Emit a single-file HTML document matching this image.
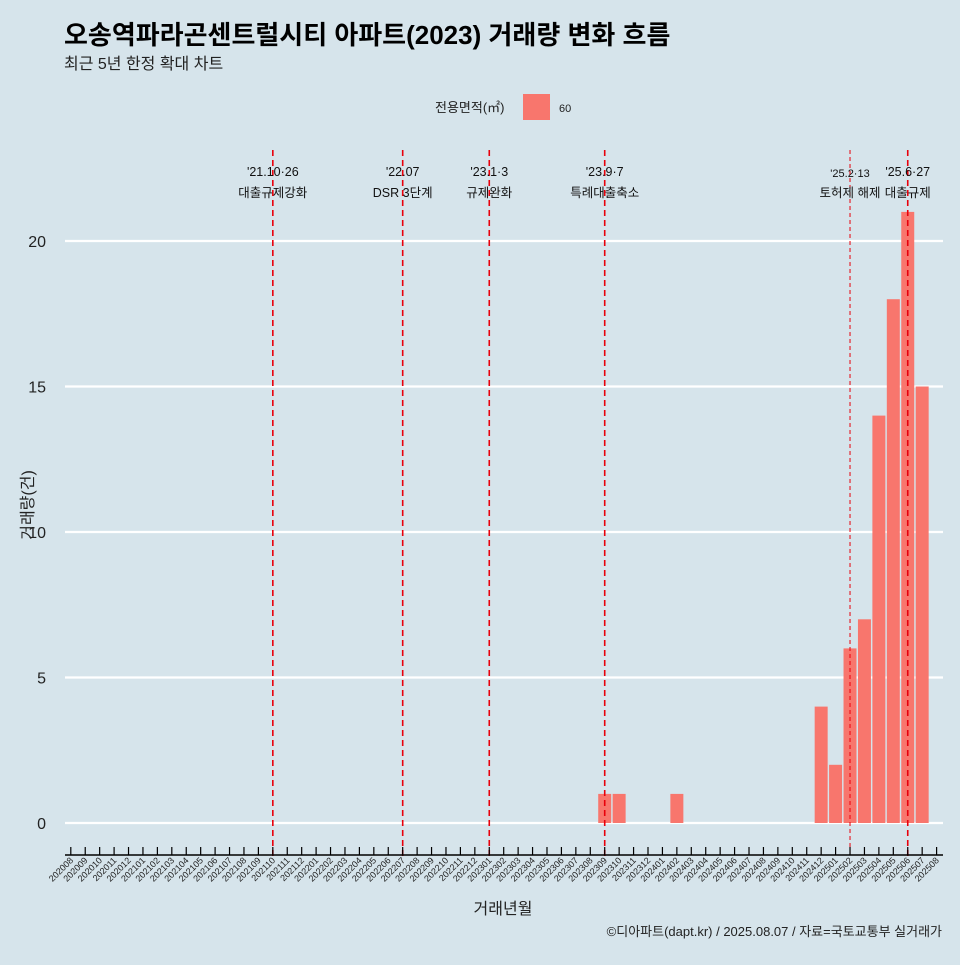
<!DOCTYPE html>
<html><head><meta charset="utf-8"><style>
body{margin:0;background:#d6e4eb;}
svg text{font-family:"Liberation Sans","Noto Sans CJK KR",sans-serif;}
</style></head><body>
<svg id="c" width="960" height="960" xmlns="http://www.w3.org/2000/svg">
<rect width="960" height="960" fill="#d6e4eb"/>
<text x="64" y="44" font-size="26" font-weight="bold" fill="#000">오송역파라곤센트럴시티 아파트(2023) 거래량 변화 흐름</text>
<text x="64" y="69" font-size="16" fill="#222">최근 5년 한정 확대 차트</text>
<g>
<text x="435" y="112" font-size="13" fill="#222">전용면적(㎡)</text>
<rect x="523" y="94" width="27" height="26" fill="#f8766d"/>
<text x="559" y="112" font-size="11" fill="#222">60</text>
</g>
<g id="grid"></g><g id="bars"></g><g id="events"></g><g id="xaxis"></g><g id="yaxis"></g>
<text transform="translate(33,505) rotate(-90)" text-anchor="middle" font-size="16" fill="#222">거래량(건)</text>
<text x="503" y="914" text-anchor="middle" font-size="16" fill="#222">거래년월</text>
<text x="942" y="936" text-anchor="end" font-size="13" fill="#222">©디아파트(dapt.kr) / 2025.08.07 / 자료=국토교통부 실거래가</text>
</svg>
<script>
const months=[];for(let y=2020;y<=2025;y++)for(let m=1;m<=12;m++){const k=y*100+m;if(k>=202008&&k<=202508)months.push(String(k));}
const barMonths=["202309","202310","202402","202412","202501","202502","202503","202504","202505","202506","202507"];
const barValues=[1,1,1,4,2,6,7,14,18,21,15];
const yTicks=[0,5,10,15,20];
const eventMonths=["202110","202207","202301","202309","202502","202506"];
const eventLine1=["'21.10·26","'22.07","'23.1·3","'23.9·7","'25.2·13","'25.6·27"];
const eventLine2=["대출규제강화","DSR 3단계","규제완화","특례대출축소","토허제 해제","대출규제"];
const ns="http://www.w3.org/2000/svg";
const x0=70.8,step=14.43,y0=823,yk=29.1;
const X=i=>x0+i*step, Y=v=>y0-v*yk;
function mk(p,t,a){const e=document.createElementNS(ns,t);for(const k in a)e.setAttribute(k,a[k]);document.getElementById(p).appendChild(e);return e;}
yTicks.forEach(v=>{
 const l=mk('grid','line',{x1:65,x2:943,y1:Y(v),y2:Y(v),stroke:'#fff','stroke-width':2.2});
 
 
 const t=mk('yaxis','text',{x:46,y:Y(v)+6,'text-anchor':'end','font-size':16,fill:'#222'});t.textContent=v;
 
 
});
barMonths.forEach((m,j)=>{
 const i=months.indexOf(m),w=step*0.9;
 const r=mk('bars','rect',{x:X(i)-w/2,y:Y(barValues[j]),width:w,height:barValues[j]*yk,fill:'#f8766d'});
 
 
});
mk('xaxis','line',{x1:65,x2:943,y1:855,y2:855,stroke:'#000','stroke-width':1.5});
months.forEach((m,i)=>{
 mk('xaxis','line',{x1:X(i),x2:X(i),y1:847,y2:855,stroke:'#000','stroke-width':1.2});
 const t=mk('xaxis','text',{transform:`translate(${X(i)+3},${861}) rotate(-45)`,'text-anchor':'end','font-size':9,fill:'#222'});t.textContent=m;
 
 
});
eventMonths.forEach((m,j)=>{
 const i=months.indexOf(m),x=X(i),thin=m==="202502";
 const l=mk('events','line',{x1:x,x2:x,y1:150,y2:856,stroke:'#e8000b','stroke-width':thin?1:1.6,'stroke-dasharray':thin?'4,3':'6,4'});
 
 
 const t1=mk('events','text',{x:x,y:thin?177:176,'text-anchor':'middle','font-size':thin?11:12.5,fill:'#111'});t1.textContent=eventLine1[j];
 
 
 const t2=mk('events','text',{x:x,y:197,'text-anchor':'middle','font-size':12.5,fill:'#111'});t2.textContent=eventLine2[j];
 
 
});
</script>
</body></html>
